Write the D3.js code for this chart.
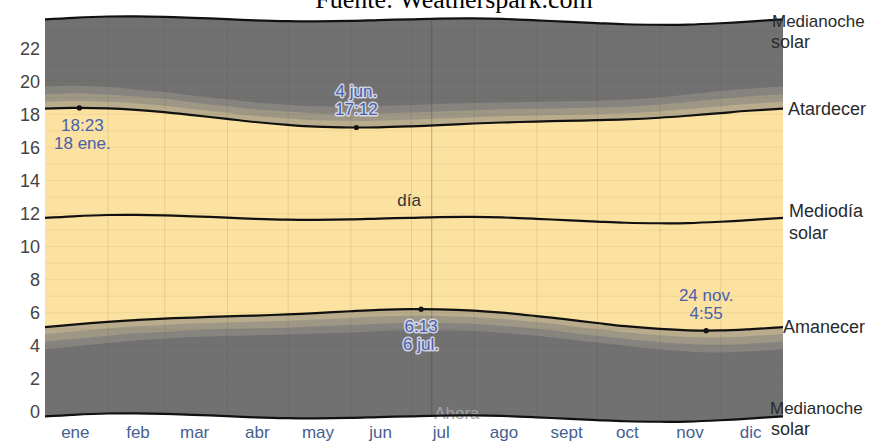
<!DOCTYPE html>
<html><head><meta charset="utf-8">
<script src="https://cdn.jsdelivr.net/npm/d3@7"></script>
<style>body{margin:0;background:#fff}svg{display:block}</style>
</head><body><svg id="c" width="873" height="441"></svg>
<script>
// ---- data ----
const sampleDates = ["2023-01-01","2023-01-15","2023-02-01","2023-02-15","2023-03-01","2023-03-15","2023-04-01","2023-04-15","2023-05-01","2023-05-15","2023-06-01","2023-06-15","2023-07-01","2023-07-15","2023-08-01","2023-08-15","2023-09-01","2023-09-15","2023-10-01","2023-10-15","2023-11-01","2023-11-15","2023-12-01","2023-12-15","2024-01-01"];
const solarNoon = [11.73,11.83,11.91,11.92,11.89,11.83,11.75,11.68,11.63,11.62,11.64,11.69,11.74,11.78,11.79,11.76,11.68,11.60,11.51,11.44,11.41,11.42,11.50,11.60,11.73];
const sunrise = [5.13,5.28,5.45,5.56,5.65,5.71,5.78,5.83,5.90,5.98,6.09,6.17,6.22,6.21,6.13,6.01,5.80,5.61,5.38,5.19,5.02,4.94,4.93,5.00,5.13];
const sunset = [18.34,18.39,18.36,18.27,18.13,17.95,17.72,17.53,17.36,17.25,17.20,17.21,17.27,17.34,17.44,17.50,17.56,17.60,17.64,17.69,17.79,17.91,18.07,18.21,18.34];
const civilMin = [25,25,24,23,23,22,22,22,23,23,24,24,24,24,23,23,22,22,22,22,23,24,25,25,25];
const nauticalMin = [27,27,26,25,25,24,24,24,25,25,26,26,26,26,25,25,24,24,24,24,25,26,27,27,27];
const astroMin = [28,28,27,26,25,25,25,25,25,26,27,27,27,27,26,25,25,25,25,25,26,27,28,28,28];
const hourTicks = [0,2,4,6,8,10,12,14,16,18,20,22];
const monthLabels = ["ene","feb","mar","abr","may","jun","jul","ago","sept","oct","nov","dic"];
const annDates = ["2023-01-18","2023-06-04","2023-07-06","2023-11-24"];
const annTimes = ["18:23","17:12","6:13","4:55"];
const annDateLabels = ["18 ene.","4 jun.","6 jul.","24 nov."];
const nowDate = "2023-07-11";
const titleText = "Fuente: Weatherspark.com";

// ---- build ----
const parse = d3.utcParse("%Y-%m-%d");
const rows = sampleDates.map((d,i)=>{
  const c = civilMin[i]/60, n = nauticalMin[i]/60, a = astroMin[i]/60;
  return {date: parse(d), noon: solarNoon[i], rise: sunrise[i], set: sunset[i],
    cRise: sunrise[i]-c, nRise: sunrise[i]-c-n, aRise: sunrise[i]-c-n-a,
    cSet: sunset[i]+c, nSet: sunset[i]+c+n, aSet: sunset[i]+c+n+a};
});
const x = d3.scaleUtc().domain([parse("2023-01-01"), parse("2024-01-01")]).range([45, 783]);
const y = d3.scaleLinear().domain([0, 24]).range([412, 15]);
const svg = d3.select("#c");
const curve = d3.curveCatmullRom.alpha(0.5);
const band = (lo, hi) => d3.area().curve(curve).x(d=>x(d.date)).y0(d=>y(lo(d))).y1(d=>y(hi(d)));
const line = f => d3.line().curve(curve).x(d=>x(d.date)).y(d=>y(f(d)));

const defs = svg.append("defs");
defs.append("clipPath").attr("id","plotclip").append("path")
  .attr("d", band(d=>d.noon-12, d=>d.noon+12)(rows));

const fills = [
  [d=>d.noon-12, d=>d.noon+12, "#717171"],
  [d=>d.aRise, d=>d.aSet, "#878480"],
  [d=>d.nRise, d=>d.nSet, "#9e9785"],
  [d=>d.cRise, d=>d.cSet, "#b8ac8d"],
  [d=>d.rise, d=>d.set, "#fbe2a1"]
];
fills.forEach(f=>svg.append("path").attr("d", band(f[0], f[1])(rows)).attr("fill", f[2]));

// grid
const grid = svg.append("g").attr("clip-path","url(#plotclip)");
grid.selectAll("line.h").data(d3.range(-1, 26)).join("line")
  .attr("x1", 45).attr("x2", 783).attr("y1", d=>y(d)).attr("y2", d=>y(d))
  .attr("stroke","rgba(90,70,20,0.07)").attr("stroke-width",1);
grid.selectAll("line.v").data(d3.utcMonth.range(parse("2023-02-01"), parse("2024-01-01"))).join("line")
  .attr("x1", d=>x(d)+0.5).attr("x2", d=>x(d)+0.5).attr("y1", 0).attr("y2", 441)
  .attr("stroke","rgba(90,70,20,0.13)").attr("stroke-width",1);
// now line
grid.append("line").attr("x1", x(parse(nowDate))+0.5).attr("x2", x(parse(nowDate))+0.5)
  .attr("y1",0).attr("y2",441).attr("stroke","rgba(40,40,40,0.25)").attr("stroke-width",1.2);
svg.append("text").attr("x", x(parse(nowDate))+3).attr("y", y(-0.4))
  .attr("font-family","Liberation Sans, Arial, sans-serif").attr("font-size",17)
  .attr("fill","#a2a2a2").text("Ahora");

// main curves
[d=>d.noon-12, d=>d.noon+12, d=>d.rise, d=>d.set, d=>d.noon].forEach(f=>{
  svg.append("path").attr("d", line(f)(rows)).attr("fill","none")
    .attr("stroke","#111").attr("stroke-width",2.2);
});

// y axis labels
svg.append("g").selectAll("text").data(hourTicks).join("text")
  .attr("x", 40).attr("y", d=>y(d)).attr("dy","0.36em").attr("text-anchor","end")
  .attr("font-family","Liberation Sans, Arial, sans-serif").attr("font-size",18)
  .attr("fill","#444").text(d=>d);

// month labels
svg.append("g").selectAll("text").data(monthLabels).join("text")
  .attr("x", (d,i)=>x(new Date(Date.UTC(2023,i,16))))
  .attr("y", 438).attr("text-anchor","middle")
  .attr("font-family","Liberation Sans, Arial, sans-serif").attr("font-size",17)
  .attr("fill","#46608f").text(d=>d);

// annotations
const annFont = "Liberation Sans, Arial, sans-serif";
annDates.forEach((ds,i)=>{
  const dt = parse(ds);
  const [hh, mm] = annTimes[i].split(":").map(Number);
  const h = hh + mm/60;
  const px = x(dt), py = y(h);
  svg.append("circle").attr("cx", px).attr("cy", py).attr("r", 2.6).attr("fill","#111");
  const below = (i===0 || i===2);
  const onGray = (i===1 || i===2);
  const lines = below ? [annTimes[i], annDateLabels[i]] : [annDateLabels[i], annTimes[i]];
  const base = below ? py + 23 : py - 30;
  lines.forEach((t,k)=>{
    const tx = svg.append("text").attr("x", px + (i===0?3:0)).attr("y", base + k*18)
      .attr("text-anchor","middle").attr("font-family", annFont).attr("font-size",17)
      .attr("fill", "#4a60ad").text(t);
    if (onGray) tx.attr("stroke","rgba(225,228,240,0.85)").attr("stroke-width",3)
      .attr("paint-order","stroke").attr("stroke-linejoin","round");
  });
});

// día label
svg.append("text").attr("x", x(parse("2023-07-04"))-8).attr("y", 206)
  .attr("text-anchor","middle").attr("font-family", annFont).attr("font-size",17)
  .attr("fill","#333").text("día");

// right-side labels
const last = rows[rows.length-1];
const rl = (txt, xx, yy, fs) => svg.append("text").attr("x", xx).attr("y", yy)
  .attr("font-family", annFont).attr("font-size", fs || 18).attr("fill","#2a2a2a").text(txt);
rl("Medianoche", 772, y(last.noon+12)+8, 17);
rl("solar", 771, y(last.noon+12)+29);
rl("Atardecer", 788, y(last.set)+6);
rl("Mediodía", 789, y(last.noon)-1);
rl("solar", 789, y(last.noon)+21);
rl("Amanecer", 783, y(last.rise)+6);
rl("Medianoche", 770, y(last.noon-12)-2, 17);
rl("solar", 771, y(last.noon-12)+19);

// title
svg.append("text").attr("x", 454).attr("y", 8).attr("text-anchor","middle")
  .attr("font-family","Liberation Serif, Times New Roman, serif").attr("font-size",26)
  .attr("fill","#000").text(titleText);
</script></body></html>
